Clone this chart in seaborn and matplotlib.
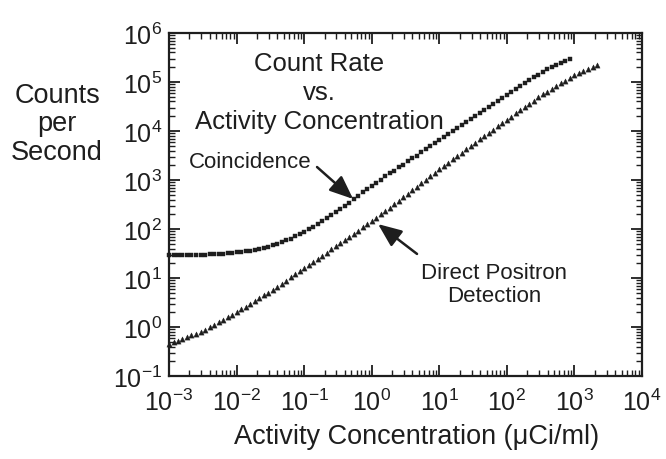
import matplotlib
matplotlib.use("Agg")
import matplotlib.pyplot as plt
import seaborn as sns
import pandas as pd
import numpy as np
from matplotlib.ticker import LogLocator, NullFormatter

# ---------------- data ----------------
conc_coinc = [
    1.00e-3, 1.17e-3, 1.36e-3, 1.58e-3, 1.85e-3, 2.15e-3, 2.51e-3, 2.93e-3, 3.41e-3, 3.98e-3, 4.64e-3, 5.41e-3, 6.31e-3, 7.36e-3, 8.58e-3,
    1.00e-2, 1.17e-2, 1.36e-2, 1.58e-2, 1.85e-2, 2.15e-2, 2.51e-2, 2.93e-2, 3.41e-2, 3.98e-2, 4.64e-2, 5.41e-2, 6.31e-2, 7.36e-2, 8.58e-2,
    1.00e-1, 1.17e-1, 1.36e-1, 1.58e-1, 1.85e-1, 2.15e-1, 2.51e-1, 2.93e-1, 3.41e-1, 3.98e-1, 4.64e-1, 5.41e-1, 6.31e-1, 7.36e-1, 8.58e-1,
    1.00, 1.17, 1.36, 1.58, 1.85, 2.15, 2.51, 2.93, 3.41, 3.98, 4.64, 5.41, 6.31, 7.36, 8.58,
    10.0, 11.7, 13.6, 15.8, 18.5, 21.5, 25.1, 29.3, 34.1, 39.8, 46.4, 54.1, 63.1, 73.6, 85.8,
    100, 117, 136, 158, 185, 215, 251, 293, 341, 398, 464, 541, 631, 736, 858,
]
cps_coinc = [
    28.9, 28.9, 29.0, 29.1, 29.2, 29.4, 29.5, 29.7, 29.9, 30.2,
    30.5, 30.9, 31.3, 31.8, 32.4, 33.2, 34.0, 35.0, 36.3, 37.7,
    39.4, 41.4, 43.7, 46.5, 49.9, 53.8, 58.4, 64.0, 70.5, 78.2,
    87.4, 98.2, 110, 126, 144, 165, 190, 220, 255, 297,
    346, 405, 475, 556, 653, 769, 887, 1020, 1180, 1360,
    1560, 1800, 2070, 2390, 2750, 3160, 3650, 4200, 4830, 5570,
    6410, 7380, 8510, 9800, 11300, 13000, 15000, 17200, 19900, 22900,
    26300, 30300, 34900, 40200, 46300, 53300, 61400, 70800, 81500, 93800,
    108000, 124000, 141000, 160000, 180000, 200000, 222000, 245000, 268000, 291000,
]

conc_direct = [
    1.00e-3, 1.17e-3, 1.36e-3, 1.58e-3, 1.85e-3, 2.15e-3, 2.51e-3, 2.93e-3, 3.41e-3, 3.98e-3, 4.64e-3, 5.41e-3, 6.31e-3, 7.36e-3, 8.58e-3,
    1.00e-2, 1.17e-2, 1.36e-2, 1.58e-2, 1.85e-2, 2.15e-2, 2.51e-2, 2.93e-2, 3.41e-2, 3.98e-2, 4.64e-2, 5.41e-2, 6.31e-2, 7.36e-2, 8.58e-2,
    1.00e-1, 1.17e-1, 1.36e-1, 1.58e-1, 1.85e-1, 2.15e-1, 2.51e-1, 2.93e-1, 3.41e-1, 3.98e-1, 4.64e-1, 5.41e-1, 6.31e-1, 7.36e-1, 8.58e-1,
    1.00, 1.17, 1.36, 1.58, 1.85, 2.15, 2.51, 2.93, 3.41, 3.98, 4.64, 5.41, 6.31, 7.36, 8.58,
    10.0, 11.7, 13.6, 15.8, 18.5, 21.5, 25.1, 29.3, 34.1, 39.8, 46.4, 54.1, 63.1, 73.6, 85.8,
    100, 117, 136, 158, 185, 215, 251, 293, 341, 398, 464, 541, 631, 736, 858,
    1000, 1170, 1360, 1580, 1850, 2150,
]
cps_direct = [
    0.447, 0.485, 0.527, 0.573, 0.622, 0.676, 0.735, 0.798, 0.881, 0.991,
    1.11, 1.25, 1.41, 1.58, 1.77, 2.00, 2.28, 2.60, 2.96, 3.38,
    3.86, 4.41, 5.02, 5.77, 6.67, 7.71, 8.89, 10.3, 11.9, 13.7,
    15.8, 18.4, 21.3, 24.7, 28.6, 33.1, 38.4, 44.5, 51.5, 59.7,
    69.2, 80.2, 92.9, 108, 125, 145, 169, 199, 233, 274,
    321, 377, 442, 520, 614, 724, 855, 1010, 1190, 1410,
    1660, 1940, 2270, 2650, 3100, 3630, 4250, 4970, 5790, 6760,
    7890, 9180, 10700, 12500, 14600, 17000, 19700, 23000, 26700, 31000,
    36100, 41900, 48600, 56000, 63700, 72400, 82400, 93800, 107000, 121000,
    138000, 151000, 166000, 182000, 200000, 219000,
]

title_lines = ["Count Rate", "vs.", "Activity Concentration"]
x_label = "Activity Concentration (\u03bcCi/ml)"
y_label_lines = ["Counts", "per", "Second"]
label_coinc = "Coincidence"
label_direct = "Direct Positron\nDetection"

# ---------------- style ----------------
sns.set_theme(style="ticks")
plt.rcParams["font.family"] = ["Liberation Sans", "DejaVu Sans"]
plt.rcParams["mathtext.fontset"] = "custom"
plt.rcParams["mathtext.rm"] = "Liberation Sans"
plt.rcParams["mathtext.it"] = "Liberation Sans:italic"
plt.rcParams["mathtext.bf"] = "Liberation Sans:bold"
ink = "#1e1e1e"

fig = plt.figure(figsize=(6.66, 4.6), dpi=100)
fig.patch.set_facecolor("white")
ax = fig.add_axes([0.2538, 0.1804, 0.7102, 0.7457])
ax.set_facecolor("white")

n_c = min(len(conc_coinc), len(cps_coinc))
n_d = min(len(conc_direct), len(cps_direct))
df_c = pd.DataFrame({"conc": conc_coinc[:n_c], "cps": cps_coinc[:n_c]})
df_d = pd.DataFrame({"conc": conc_direct[:n_d], "cps": cps_direct[:n_d]})

sns.scatterplot(data=df_c, x="conc", y="cps", marker="s", s=12, color=ink,
                edgecolor=ink, linewidth=0.3, ax=ax, clip_on=False, zorder=3)
sns.scatterplot(data=df_d, x="conc", y="cps", marker="^", s=14, color=ink,
                edgecolor=ink, linewidth=0.3, ax=ax, clip_on=False, zorder=3)

ax.set_xscale("log")
ax.set_yscale("log")
ax.set_xlim(1e-3, 1e4)
ax.set_ylim(1e-1, 1e6)
ax.set_xlabel("")
ax.set_ylabel("")

for axis in (ax.xaxis, ax.yaxis):
    axis.set_major_locator(LogLocator(base=10, numticks=30))
    axis.set_minor_locator(LogLocator(base=10, subs=np.arange(2, 10), numticks=300))
    axis.set_minor_formatter(NullFormatter())

ax.tick_params(which="both", direction="in", top=True, right=True, color=ink,
               labelcolor=ink)
ax.tick_params(which="major", length=8, width=1.3, labelsize=18)
ax.tick_params(axis="x", which="major", pad=9)
ax.tick_params(axis="y", which="major", pad=5)
ax.tick_params(which="minor", length=4, width=1.0)
for sp in ax.spines.values():
    sp.set_linewidth(1.6)
    sp.set_color(ink)

# title block inside the axes
ax.text(0.317, 0.828, "\n".join(title_lines), transform=ax.transAxes,
        ha="center", va="center", multialignment="center", fontsize=18.5,
        color=ink, linespacing=1.25)

# axis labels
fig.text(0.625, 0.05, x_label, ha="center", va="center", fontsize=19.5, color=ink)
fig.text(0.0856, 0.730, "\n".join(y_label_lines), ha="center", va="center",
         multialignment="center", fontsize=19.5, color=ink, linespacing=1.12)

# series annotations
arrow = dict(arrowstyle="-|>,head_length=1.2,head_width=0.5", mutation_scale=12,
             lw=1.8, color=ink, shrinkA=0, shrinkB=0)
ax.text(0.0158, 2440, label_coinc, ha="center", va="center", fontsize=16, color=ink)
ax.annotate("", xy=(0.53, 410), xytext=(0.155, 1840), arrowprops=arrow)
ax.text(64.5, 7.6, label_direct, ha="center", va="center", multialignment="center",
        fontsize=16, color=ink, linespacing=1.15)
ax.annotate("", xy=(1.24, 126), xytext=(4.68, 31), arrowprops=arrow)

fig.savefig("out.png", dpi=100, facecolor="white")
